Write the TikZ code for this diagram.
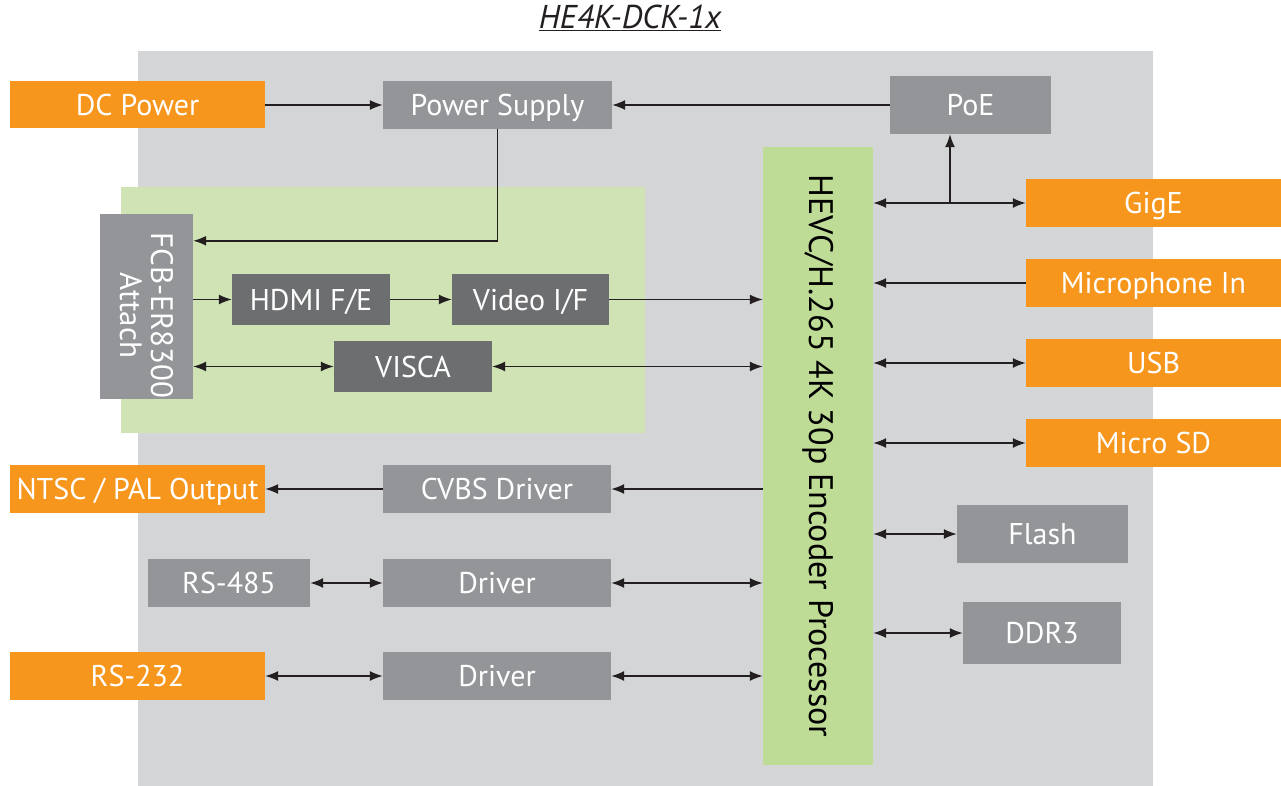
\documentclass[tikz,border=0pt]{standalone}
\usepackage{fontspec}
\setmainfont{PT Sans}
\usetikzlibrary{arrows.meta}

\definecolor{hdorange}{HTML}{F7961D}
\definecolor{hdgray}{HTML}{939598}
\definecolor{hddark}{HTML}{6D6E70}
\definecolor{hdback}{HTML}{D4D5D7}
\definecolor{hdlight}{HTML}{D0E3B4}
\definecolor{hdgreen}{HTML}{BFDC96}
\definecolor{hdline}{HTML}{231F20}

\begin{document}
\begin{tikzpicture}
    [x=1pt,y=-1pt,
    every node/.style={font=\fontsize{30}{31}\selectfont,inner sep=0pt},
    orangebox/.style={fill=hdorange,text=white,text height=21pt,text depth=0pt},
    graybox/.style={fill=hdgray,text=white,text height=21pt,text depth=0pt},
    darkbox/.style={fill=hddark,text=white,text height=21pt,text depth=0pt},
    link/.style={line width=1.5pt,draw=hdline,-{Latex[length=13pt,width=10pt]}},
    duallink/.style={link,{Latex[length=13pt,width=10pt]}-{Latex[length=13pt,width=10pt]}}]

    \useasboundingbox (0,0) rectangle (1281,786);
    \fill[hdback] (138,51) rectangle (1153,786);
    \fill[hdlight] (121,187) rectangle (645,433);

    \node[text=hdline,font=\fontsize{33}{36}\selectfont] (title) at (630,18) {\itshape\underline{HE4K-DCK-1x}};

    % power
    \node[orangebox,minimum width=255,minimum height=47] (dc) at (137.5,105) {DC Power};
    \node[graybox,minimum width=229,minimum height=48] (psu) at (497.5,105) {Power Supply};
    \node[graybox,minimum width=161,minimum height=58] (poe) at (970.5,105) {PoE};

    % camera block
    \node[graybox,minimum width=93,minimum height=185,
        label={[yshift=-9pt,rotate=-90,text=white,align=center,font=\fontsize{31}{31}\selectfont]center:FCB-ER8300\\Attach}] (fcb) at (146.5,306.5) {};
    \node[darkbox,minimum width=158,minimum height=51] (hdmi) at (311,299.5) {HDMI F/E};
    \node[darkbox,minimum width=157,minimum height=51] (vif) at (530.5,299.5) {Video I/F};
    \node[darkbox,minimum width=158,minimum height=51] (visca) at (413,366.5) {VISCA};

    % processor
    \node[fill=hdgreen,minimum width=110,minimum height=618,
        label={[rotate=-90,text=black,font=\fontsize{34}{36}\selectfont]center:HEVC/H.265 4K 30p Encoder Processor}] (proc) at (818,456) {};

    % left side
    \node[orangebox,minimum width=255,minimum height=48] (ntsc) at (137.5,489) {NTSC / PAL Output};
    \node[graybox,minimum width=228,minimum height=48] (cvbs) at (497,489) {CVBS Driver};
    \node[graybox,minimum width=162,minimum height=48] (rs485) at (229,583) {RS-485};
    \node[graybox,minimum width=228,minimum height=48] (drv1) at (497,583) {Driver};
    \node[orangebox,minimum width=255,minimum height=48] (rs232) at (137.5,676) {RS-232};
    \node[graybox,minimum width=228,minimum height=48] (drv2) at (497,676) {Driver};

    % right side
    \node[orangebox,minimum width=255,minimum height=48] (gige) at (1153.5,203) {GigE};
    \node[orangebox,minimum width=255,minimum height=48] (mic) at (1153.5,283) {Microphone In};
    \node[orangebox,minimum width=255,minimum height=48] (usb) at (1153.5,363) {USB};
    \node[orangebox,minimum width=255,minimum height=48] (sd) at (1153.5,443) {Micro SD};
    \node[graybox,minimum width=171,minimum height=58] (flash) at (1042.5,534) {Flash};
    \node[graybox,minimum width=158,minimum height=62] (ddr) at (1042,633) {DDR3};

    \coordinate (tap) at (950,203);

    \draw[link] (dc) -- (psu);
    \draw[link] (poe) -- (psu);
    \draw[link] (psu.south) |- ([yshift=-27pt]fcb.north east);
    \draw[link] (hdmi -| fcb.east) -- (hdmi);
    \draw[link] (hdmi) -- (vif);
    \draw[link] (vif) -- (vif -| proc.west);
    \draw[duallink] (visca -| fcb.east) -- (visca);
    \draw[duallink] (visca) -- (visca -| proc.west);
    \draw[link] (cvbs -| proc.west) -- (cvbs);
    \draw[link] (cvbs) -- (ntsc);
    \draw[duallink] (rs485) -- (drv1);
    \draw[duallink] (drv1) -- (drv1 -| proc.west);
    \draw[duallink] (rs232) -- (drv2);
    \draw[duallink] (drv2) -- (drv2 -| proc.west);
    \draw[duallink] (gige -| proc.east) -- (gige);
    \draw[link] (tap) -- (tap |- poe.south);
    \draw[link] (mic) -- (mic -| proc.east);
    \draw[duallink] (usb -| proc.east) -- (usb);
    \draw[duallink] (sd -| proc.east) -- (sd);
    \draw[duallink] (flash -| proc.east) -- (flash);
    \draw[duallink] (ddr -| proc.east) -- (ddr);
\end{tikzpicture}
\end{document}
